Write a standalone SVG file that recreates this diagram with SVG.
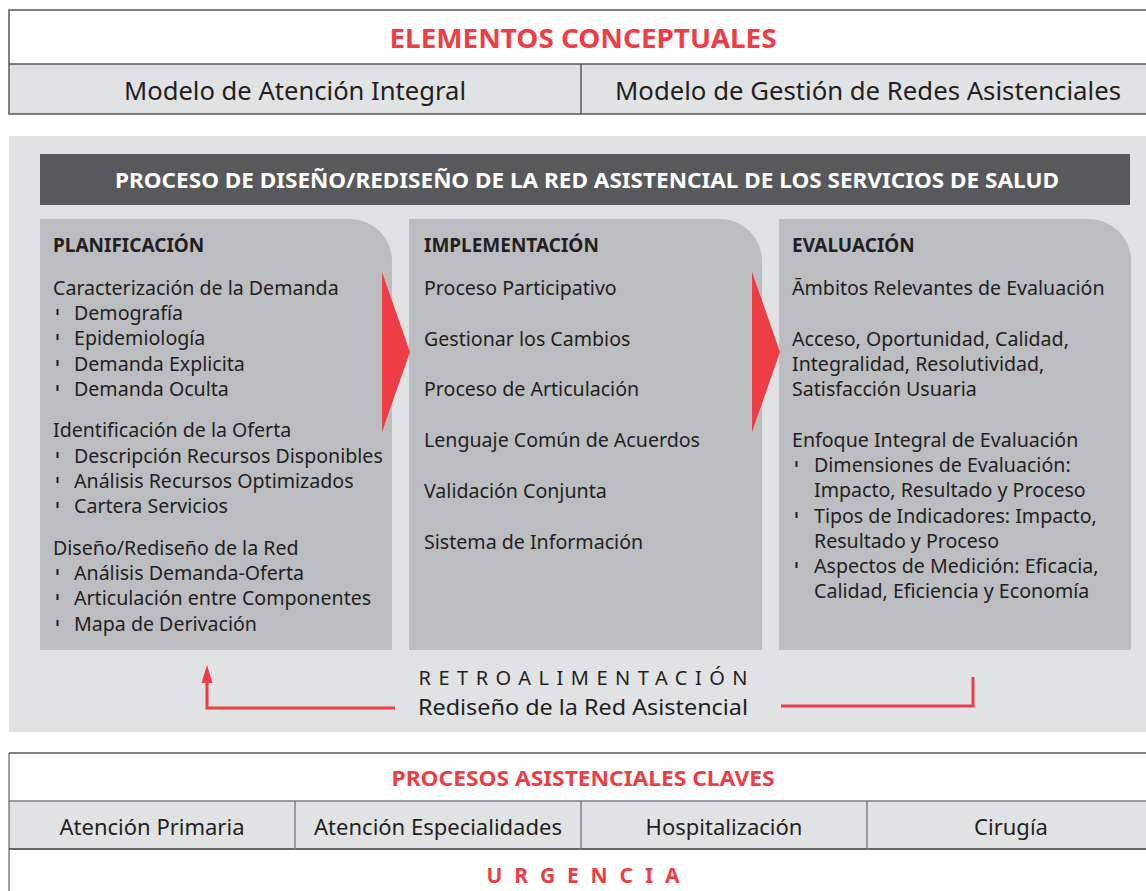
<svg xmlns="http://www.w3.org/2000/svg" width="1146" height="891" viewBox="0 0 1146 891">
<style>
text{font-family:"Noto Sans","Open Sans","DejaVu Sans",sans-serif;fill:#231f20}
.red{fill:#ee3e45;font-weight:bold}
.hd{font-weight:bold;font-size:19px}
.b{font-size:19.6px}
.cell{font-size:25px;text-anchor:middle}
.cell2{font-size:22px;text-anchor:middle}
.panel{fill:#bcbdc0}
.tick{fill:#231f20}
.line{stroke:#58595b;stroke-width:1.5;fill:none}
.fb{stroke:#ee3e45;stroke-width:3;fill:none}
</style>
<rect width="1146" height="891" fill="#ffffff"/>

<g id="elementos">
<rect x="9" y="64" width="1140" height="50" fill="#e1e2e4"/>
<rect x="9" y="10" width="1140" height="104" class="line"/>
<line x1="9" y1="64" x2="1146" y2="64" class="line"/>
<line x1="581" y1="64" x2="581" y2="114" class="line"/>
<text x="583" y="48" class="red" font-size="26" text-anchor="middle" textLength="387" lengthAdjust="spacingAndGlyphs">ELEMENTOS CONCEPTUALES</text>
<text x="295" y="100" class="cell" textLength="342" lengthAdjust="spacingAndGlyphs">Modelo de Atención Integral</text>
<text x="868" y="100" class="cell" textLength="506" lengthAdjust="spacingAndGlyphs">Modelo de Gestión de Redes Asistenciales</text>
</g>

<g id="proceso">
<rect x="9" y="136" width="1140" height="596" fill="#e1e2e4"/>
<rect x="40" y="154" width="1090" height="51" fill="#58595b"/>
<text x="587" y="188" font-size="21" font-weight="bold" text-anchor="middle" style="fill:#ffffff" textLength="944" lengthAdjust="spacingAndGlyphs">PROCESO DE DISEÑO/REDISEÑO DE LA RED ASISTENCIAL DE LOS SERVICIOS DE SALUD</text>
</g>

<g id="planificacion">
<path class="panel" d="M40,219 H350 A42,42 0 0 1 392,261 V650 H40 Z"/>
<text x="53" y="252" class="hd">PLANIFICACIÓN</text>
<text x="53" y="295" class="b">Caracterización de la Demanda</text>
<rect class="tick" x="56.5" y="309" width="2" height="6"/><text x="74" y="320" class="b">Demografía</text>
<rect class="tick" x="56.5" y="334" width="2" height="6"/><text x="74" y="345" class="b">Epidemiología</text>
<rect class="tick" x="56.5" y="360" width="2" height="6"/><text x="74" y="371" class="b">Demanda Explicita</text>
<rect class="tick" x="56.5" y="385" width="2" height="6"/><text x="74" y="396" class="b">Demanda Oculta</text>
<text x="53" y="437" class="b">Identificación de la Oferta</text>
<rect class="tick" x="56.5" y="452" width="2" height="6"/><text x="74" y="463" class="b">Descripción Recursos Disponibles</text>
<rect class="tick" x="56.5" y="477" width="2" height="6"/><text x="74" y="488" class="b">Análisis Recursos Optimizados</text>
<rect class="tick" x="56.5" y="502" width="2" height="6"/><text x="74" y="513" class="b">Cartera Servicios</text>
<text x="53" y="555" class="b">Diseño/Rediseño de la Red</text>
<rect class="tick" x="56.5" y="569" width="2" height="6"/><text x="74" y="580" class="b">Análisis Demanda-Oferta</text>
<rect class="tick" x="56.5" y="594" width="2" height="6"/><text x="74" y="605" class="b">Articulación entre Componentes</text>
<rect class="tick" x="56.5" y="620" width="2" height="6"/><text x="74" y="631" class="b">Mapa de Derivación</text>
</g>

<g id="implementacion">
<path class="panel" d="M409,219 H720 A42,42 0 0 1 762,261 V650 H409 Z"/>
<text x="424" y="252" class="hd">IMPLEMENTACIÓN</text>
<text x="424" y="295" class="b">Proceso Participativo</text>
<text x="424" y="346" class="b">Gestionar los Cambios</text>
<text x="424" y="396" class="b">Proceso de Articulación</text>
<text x="424" y="447" class="b">Lenguaje Común de Acuerdos</text>
<text x="424" y="498" class="b">Validación Conjunta</text>
<text x="424" y="549" class="b">Sistema de Información</text>
</g>

<g id="evaluacion">
<path class="panel" d="M779,219 H1089 A42,42 0 0 1 1131,261 V650 H779 Z"/>
<text x="792" y="252" class="hd">EVALUACIÓN</text>
<text x="792" y="295" class="b">Āmbitos Relevantes de Evaluación</text>
<text x="792" y="346" class="b">Acceso, Oportunidad, Calidad,</text>
<text x="792" y="371" class="b">Integralidad, Resolutividad,</text>
<text x="792" y="396" class="b">Satisfacción Usuaria</text>
<text x="792" y="447" class="b">Enfoque Integral de Evaluación</text>
<rect class="tick" x="795.5" y="461" width="2" height="6"/><text x="814" y="472" class="b">Dimensiones de Evaluación:</text>
<text x="814" y="497" class="b">Impacto, Resultado y Proceso</text>
<rect class="tick" x="795.5" y="512" width="2" height="6"/><text x="814" y="523" class="b">Tipos de Indicadores: Impacto,</text>
<text x="814" y="548" class="b">Resultado y Proceso</text>
<rect class="tick" x="795.5" y="562" width="2" height="6"/><text x="814" y="573" class="b">Aspectos de Medición: Eficacia,</text>
<text x="814" y="598" class="b">Calidad, Eficiencia y Economía</text>
</g>

<g id="connectors">
<polygon points="382,272 410,352 382,432" fill="#ee3e45"/>
<polygon points="752,272 780,352 752,432" fill="#ee3e45"/>
<polyline class="fb" points="395,708 207,708 207,680"/>
<polygon points="207,665 212.5,683 201.5,683" fill="#ee3e45"/>
<polyline class="fb" points="781,706 973,706 973,677"/>
</g>

<g id="retroalimentacion">
<text x="583" y="685" font-size="20" text-anchor="middle" textLength="329" lengthAdjust="spacing">RETROALIMENTACIÓN</text>
<text x="583" y="715" font-size="21" text-anchor="middle" textLength="330" lengthAdjust="spacingAndGlyphs">Rediseño de la Red Asistencial</text>
</g>

<g id="procesos">
<rect x="9" y="801" width="1140" height="48" fill="#e1e2e4"/>
<line x1="9" y1="753" x2="1146" y2="753" stroke="#808184" stroke-width="2"/>
<line x1="9" y1="753" x2="9" y2="891" stroke="#808184" stroke-width="1.5"/>
<line x1="9" y1="801" x2="1146" y2="801" stroke="#808184" stroke-width="1.5"/>
<line x1="9" y1="849" x2="1146" y2="849" stroke="#3a3a3c" stroke-width="1.5"/>
<line x1="295" y1="801" x2="295" y2="849" stroke="#808184" stroke-width="1.5"/>
<line x1="581" y1="801" x2="581" y2="849" stroke="#808184" stroke-width="1.5"/>
<line x1="867" y1="801" x2="867" y2="849" stroke="#808184" stroke-width="1.5"/>
<text x="583" y="786" class="red" font-size="21" text-anchor="middle" textLength="383" lengthAdjust="spacingAndGlyphs">PROCESOS ASISTENCIALES CLAVES</text>
<text x="152" y="835" class="cell2">Atención Primaria</text>
<text x="438" y="835" class="cell2">Atención Especialidades</text>
<text x="724" y="835" class="cell2">Hospitalización</text>
<text x="1011" y="835" class="cell2">Cirugía</text>
<text x="583" y="883" class="red" font-size="21" text-anchor="middle" textLength="193" lengthAdjust="spacing">URGENCIA</text>
</g>
</svg>
